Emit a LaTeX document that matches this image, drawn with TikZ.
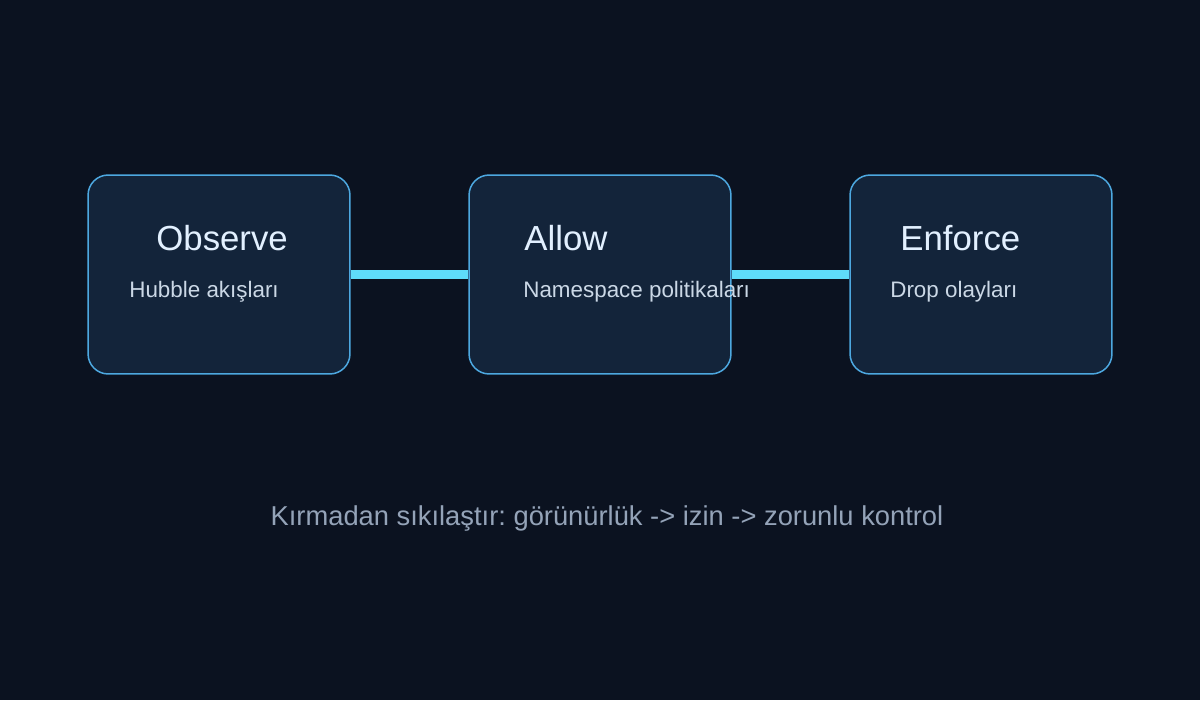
\documentclass[tikz,border=0pt]{standalone}
\usepackage{fontspec}
\setmainfont{Liberation Sans}
\frenchspacing
\definecolor{bg}{HTML}{0B1220}
\definecolor{boxfill}{HTML}{13243A}
\definecolor{boxline}{HTML}{4DA8E0}
\definecolor{link}{HTML}{5FDCFA}
\definecolor{titlecol}{HTML}{E2F0FF}
\definecolor{subcol}{HTML}{CBD8E6}
\definecolor{capcol}{HTML}{94A3B8}
\tikzset{
  stagebox/.style={draw=boxline, fill=boxfill, line width=0.85pt, rounded corners=11.5pt,
    minimum width=5.24cm, minimum height=3.98cm, inner sep=0pt},
  link/.style={draw=link, line width=5.2pt},
  titletext/.style={anchor=base west, inner sep=0pt, text=titlecol, font=\fontsize{19.8pt}{23pt}\selectfont},
  subtext/.style={anchor=base west, inner sep=0pt, text=subcol, font=\fontsize{12.75pt}{15pt}\selectfont},
  captext/.style={anchor=base, inner sep=0pt, text=capcol, font=\fontsize{15.55pt}{18pt}\selectfont\frenchspacing}
}
\begin{document}
\begin{tikzpicture}[x=0.02cm,y=-0.02cm]
\fill[bg] (0,0) rectangle (1200,700);
\useasboundingbox (0,0) rectangle (1200,700);
\node[stagebox] (b1) at (219,274.5) {};
\node[stagebox] (b2) at (600,274.5) {};
\node[stagebox] (b3) at (981,274.5) {};
\draw[link] (b1.east) -- (b2.west);
\draw[link] (b2.east) -- (b3.west);
\node[titletext] (t1) at (156,250) {Observe};
\node[titletext] (t2) at (524,250) {Allow};
\node[titletext] (t3) at (900,250) {Enforce};
\node[subtext] (s1) at (129,297) {Hubble akışları};
\node[subtext] (s2) at (523,297) {Namespace politikaları};
\node[subtext] (s3) at (890,297) {Drop olayları};
\node[captext] (cap) at (607,525) {Kırmadan sıkılaştır: görünürlük -> izin -> zorunlu kontrol};
\end{tikzpicture}
\end{document}
